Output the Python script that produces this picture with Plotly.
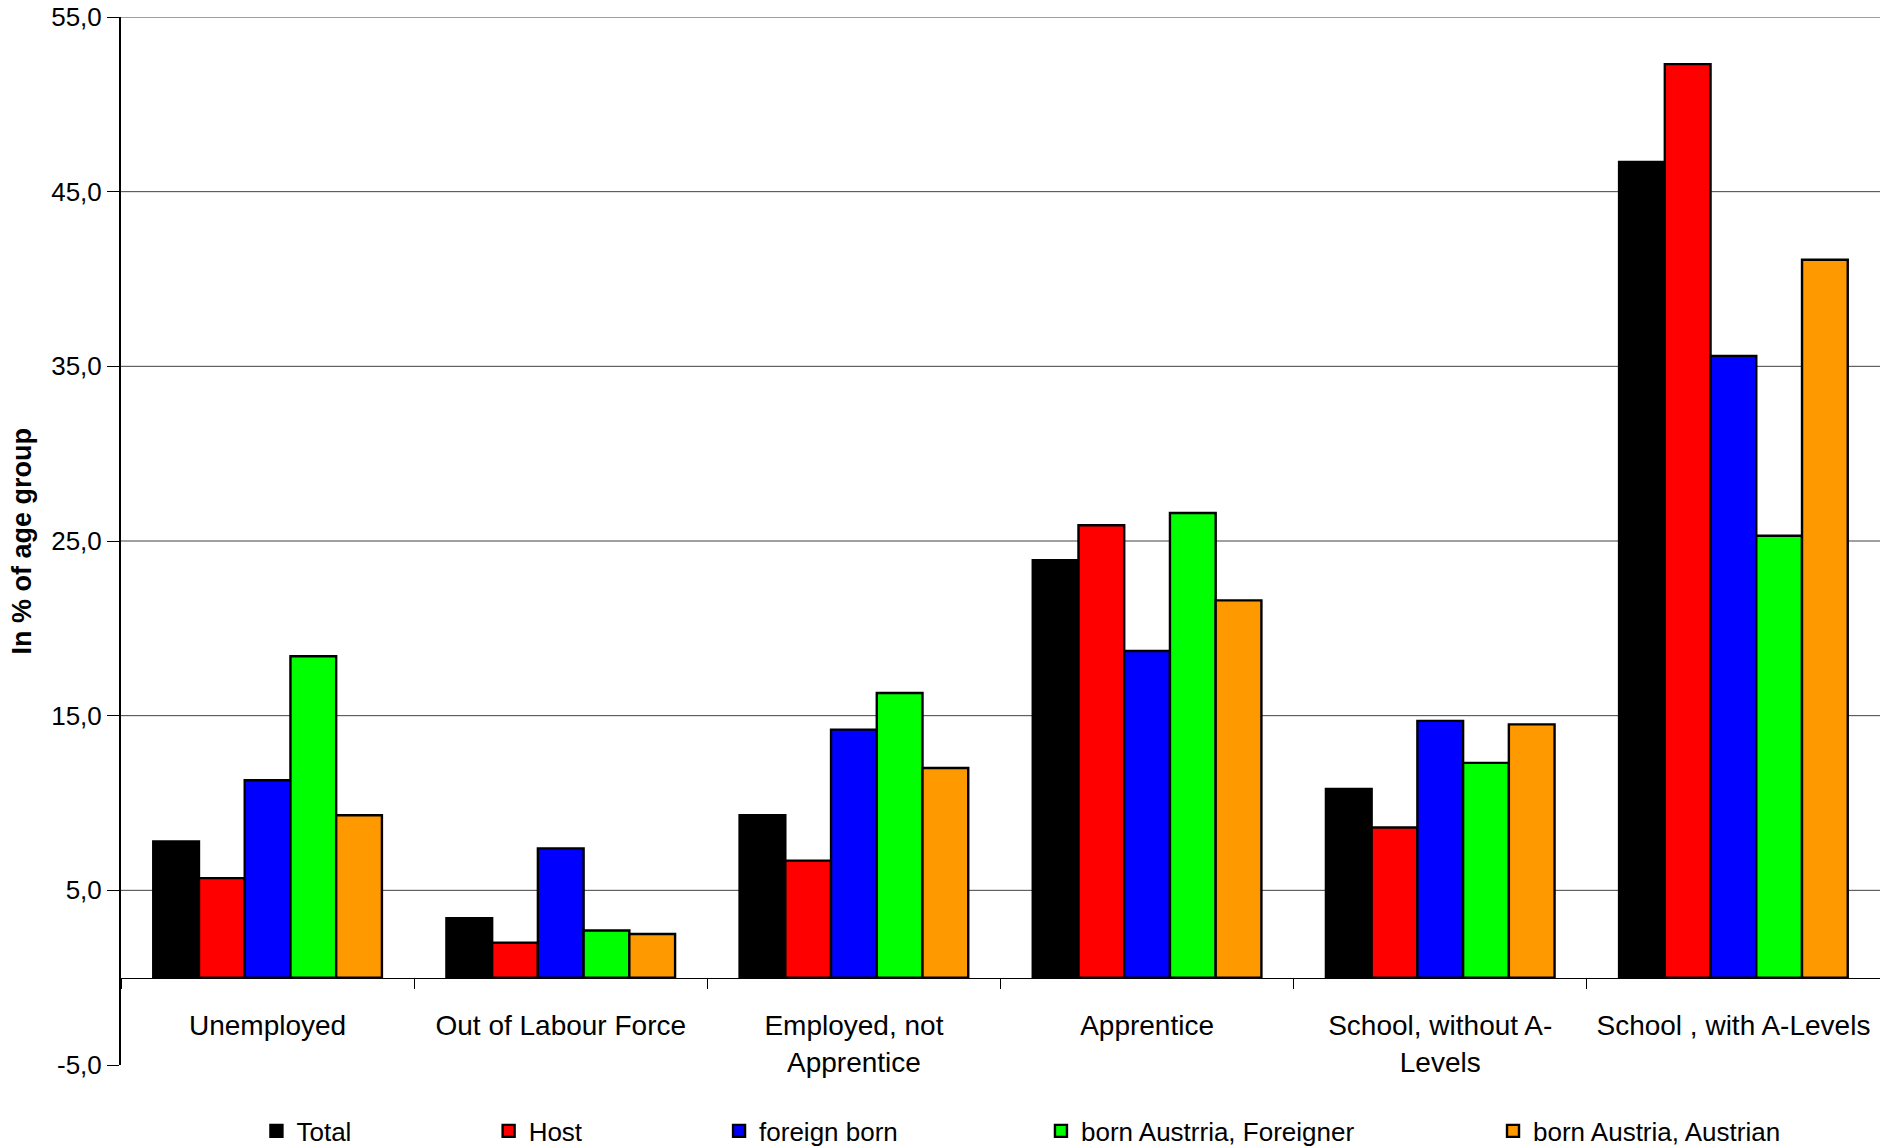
import plotly.graph_objects as go

# Activity status of young people, by migration background
categories = [
    "Unemployed",
    "Out of Labour Force",
    "Employed, not<br>Apprentice",
    "Apprentice",
    "School, without A-<br>Levels",
    "School , with A-Levels",
]

series_names = [
    "Total",
    "Host",
    "foreign born",
    "born Austrria, Foreigner",
    "born Austria, Austrian",
]

total = [7.8, 3.4, 9.3, 23.9, 10.8, 46.7]
host = [5.7, 2.0, 6.7, 25.9, 8.6, 52.3]
foreign_born = [11.3, 7.4, 14.2, 18.7, 14.7, 35.6]
born_austria_foreigner = [18.4, 2.7, 16.3, 26.6, 12.3, 25.3]
born_austria_austrian = [9.3, 2.5, 12.0, 21.6, 14.5, 41.1]

series_values = [total, host, foreign_born, born_austria_foreigner, born_austria_austrian]
series_colors = ["#000000", "#FF0000", "#0000FF", "#00FF00", "#FF9900"]

y_ticks = [-5, 5, 15, 25, 35, 45, 55]
y_tick_text = ["-5,0", "5,0", "15,0", "25,0", "35,0", "45,0", "55,0"]

# horizontal position (paper fraction) of each legend entry
legend_x = [0.077, 0.209, 0.340, 0.523, 0.780]

FONT = "Liberation Sans, Arial, sans-serif"

fig = go.Figure()
legend_ids = ["legend", "legend2", "legend3", "legend4", "legend5"]
for name, vals, color, lid in zip(series_names, series_values, series_colors, legend_ids):
    fig.add_trace(
        go.Bar(
            x=categories,
            y=vals,
            name=name,
            marker=dict(color=color, line=dict(color="#000000", width=2.4)),
            legend=lid,
        )
    )

layout_legends = {}
for lid, lx in zip(legend_ids, legend_x):
    layout_legends[lid] = dict(
        x=lx,
        y=-0.063,
        xanchor="left",
        yanchor="middle",
        orientation="h",
        font=dict(family=FONT, size=26, color="#000000"),
        bgcolor="rgba(0,0,0,0)",
        itemwidth=30,
        tracegroupgap=0,
    )

# gridlines at the labelled values above the category axis
grid_shapes = [
    dict(
        type="line",
        xref="paper",
        yref="y",
        x0=0,
        x1=1,
        y0=v,
        y1=v,
        line=dict(color="#404040", width=1),
        layer="below",
    )
    for v in y_ticks
    if v > 0
]

fig.update_layout(
    width=1880,
    height=1146,
    paper_bgcolor="#FFFFFF",
    plot_bgcolor="#FFFFFF",
    margin=dict(l=121, r=0, t=17, b=81, autoexpand=False),
    barmode="group",
    bargap=0.22,
    bargroupgap=0,
    showlegend=True,
    shapes=grid_shapes,
    font=dict(family=FONT, color="#000000"),
    xaxis=dict(
        anchor="free",
        position=5 / 60,
        showline=True,
        linecolor="#000000",
        linewidth=1,
        ticks="outside",
        tickson="boundaries",
        ticklen=10,
        tickcolor="#000000",
        tickangle=0,
        ticklabelstandoff=23,
        automargin=False,
        tickfont=dict(family=FONT, size=28, color="#000000"),
        showgrid=False,
    ),
    yaxis=dict(
        range=[-5, 55],
        tickvals=y_ticks,
        ticktext=y_tick_text,
        showgrid=False,
        zeroline=False,
        showline=True,
        linecolor="#000000",
        linewidth=2,
        ticks="outside",
        ticklen=12,
        tickcolor="#000000",
        automargin=False,
        tickfont=dict(family=FONT, size=26, color="#000000"),
    ),
    annotations=[
        dict(
            text="<b>In % of age group</b>",
            xref="paper",
            yref="paper",
            x=-0.056,
            y=0.5,
            textangle=-90,
            showarrow=False,
            xanchor="center",
            yanchor="middle",
            font=dict(family=FONT, size=27, color="#000000"),
        )
    ],
    **layout_legends,
)

fig.write_html("out.html")
